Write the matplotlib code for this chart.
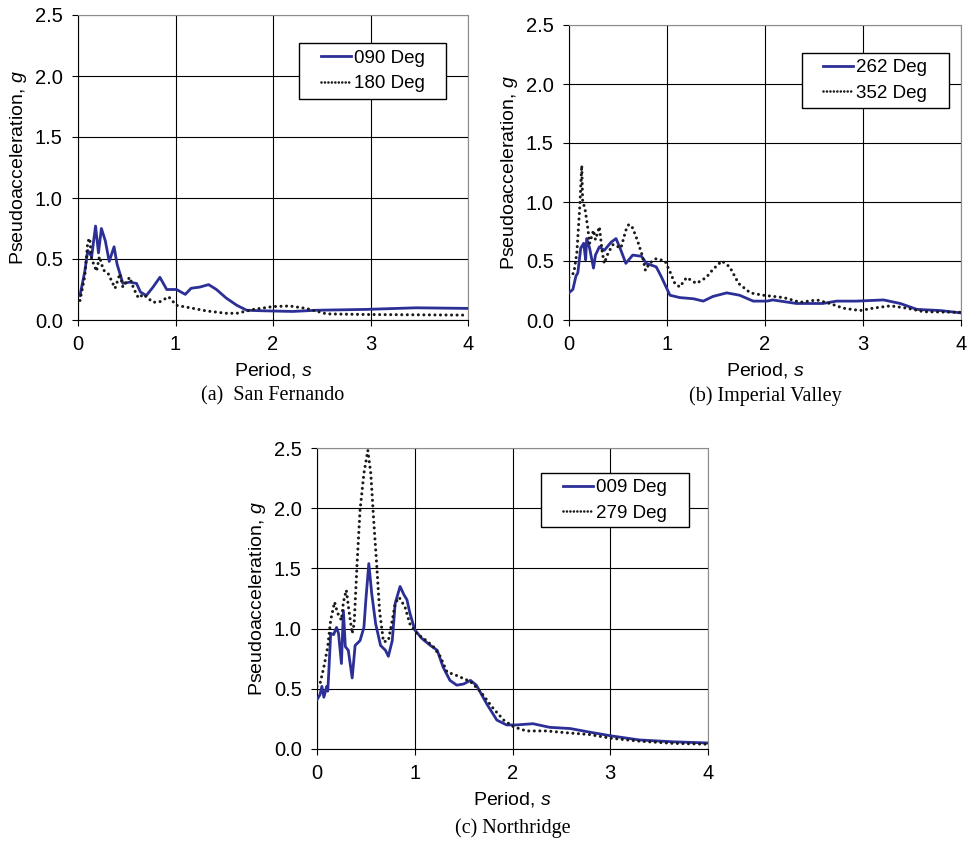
import matplotlib
matplotlib.use("Agg")
import matplotlib.pyplot as plt
from matplotlib.patches import Rectangle
from matplotlib.lines import Line2D
from matplotlib.ticker import FormatStrFormatter

plt.rcParams['font.family'] = ['Liberation Sans', 'DejaVu Sans']
plt.rcParams['mathtext.fontset'] = 'custom'
plt.rcParams['mathtext.rm'] = 'Liberation Sans'
plt.rcParams['mathtext.it'] = 'Liberation Sans:italic'

# (a) San Fernando
t_sf_090 = [0.02, 0.07, 0.10, 0.14, 0.18, 0.21, 0.24, 0.28, 0.32, 0.37, 0.40, 0.43, 0.46,
            0.53, 0.60, 0.64, 0.70, 0.77, 0.84, 0.91, 1.01, 1.10, 1.16, 1.25, 1.34, 1.42,
            1.52, 1.63, 1.73, 1.87, 2.20, 2.45, 2.96, 3.47, 4.00]
a_sf_090 = [0.20, 0.40, 0.57, 0.52, 0.77, 0.55, 0.75, 0.65, 0.48, 0.60, 0.46, 0.38, 0.30,
            0.31, 0.30, 0.23, 0.20, 0.27, 0.35, 0.25, 0.25, 0.21, 0.26, 0.27, 0.29, 0.25,
            0.18, 0.12, 0.08, 0.076, 0.07, 0.08, 0.087, 0.10, 0.095]
t_sf_180 = [0.02, 0.07, 0.10, 0.12, 0.14, 0.19, 0.22, 0.26, 0.31, 0.38, 0.43, 0.46, 0.53,
            0.57, 0.62, 0.67, 0.77, 0.84, 0.93, 1.01, 1.15, 1.32, 1.52, 1.63, 1.80, 2.00,
            2.17, 2.34, 2.55, 2.96, 4.00]
a_sf_180 = [0.16, 0.36, 0.64, 0.67, 0.50, 0.40, 0.52, 0.41, 0.38, 0.26, 0.38, 0.27, 0.35,
            0.26, 0.18, 0.21, 0.145, 0.15, 0.19, 0.12, 0.10, 0.074, 0.055, 0.055, 0.087, 0.11,
            0.115, 0.095, 0.05, 0.045, 0.04]

# (b) Imperial Valley
t_iv_262 = [0.00, 0.04, 0.07, 0.09, 0.12, 0.15, 0.17, 0.18, 0.21, 0.25, 0.27, 0.31, 0.36,
            0.39, 0.43, 0.48, 0.53, 0.58, 0.65, 0.74, 0.79, 0.89, 0.94, 1.03, 1.13, 1.27,
            1.37, 1.47, 1.61, 1.74, 1.88, 2.02, 2.08, 2.32, 2.59, 2.73, 2.93, 3.21, 3.38,
            3.55, 3.79, 4.00]
a_iv_262 = [0.23, 0.26, 0.37, 0.40, 0.61, 0.65, 0.51, 0.69, 0.61, 0.44, 0.55, 0.62, 0.59,
            0.62, 0.66, 0.69, 0.59, 0.48, 0.55, 0.54, 0.48, 0.45, 0.37, 0.21, 0.19, 0.18,
            0.16, 0.20, 0.23, 0.21, 0.16, 0.16, 0.17, 0.14, 0.14, 0.16, 0.16, 0.17, 0.14,
            0.09, 0.08, 0.06]
t_iv_352 = [0.00, 0.05, 0.08, 0.11, 0.13, 0.14, 0.16, 0.19, 0.21, 0.25, 0.27, 0.31, 0.34,
            0.36, 0.40, 0.45, 0.53, 0.58, 0.61, 0.65, 0.70, 0.75, 0.78, 0.82, 0.89, 0.98,
            1.03, 1.08, 1.13, 1.20, 1.30, 1.40, 1.47, 1.56, 1.64, 1.73, 1.85, 1.98, 2.19,
            2.36, 2.53, 2.66, 2.80, 2.97, 3.10, 3.28, 3.45, 3.62, 4.00]
a_iv_352 = [0.36, 0.40, 0.57, 0.96, 1.31, 0.99, 0.96, 0.79, 0.65, 0.76, 0.68, 0.79, 0.57,
            0.48, 0.57, 0.64, 0.61, 0.76, 0.81, 0.78, 0.67, 0.54, 0.42, 0.48, 0.52, 0.50,
            0.41, 0.31, 0.28, 0.36, 0.31, 0.36, 0.43, 0.50, 0.45, 0.31, 0.23, 0.21, 0.19,
            0.15, 0.17, 0.14, 0.10, 0.08, 0.10, 0.12, 0.10, 0.07, 0.065]

# (c) Northridge
t_nr_009 = [0.00, 0.03, 0.05, 0.07, 0.10, 0.11, 0.12, 0.14, 0.17, 0.20, 0.22, 0.25, 0.27,
            0.29, 0.32, 0.36, 0.39, 0.44, 0.48, 0.50, 0.53, 0.56, 0.60, 0.65, 0.70, 0.73,
            0.77, 0.80, 0.85, 0.89, 0.92, 0.95, 1.00, 1.07, 1.16, 1.23, 1.29, 1.36, 1.43,
            1.50, 1.57, 1.63, 1.74, 1.84, 1.94, 2.04, 2.21, 2.38, 2.59, 2.79, 3.00, 3.30,
            3.64, 4.00]
a_nr_009 = [0.41, 0.45, 0.52, 0.43, 0.52, 0.48, 0.63, 0.96, 0.95, 1.01, 0.96, 0.71, 1.15,
            0.85, 0.82, 0.59, 0.86, 0.90, 1.01, 1.24, 1.54, 1.29, 1.04, 0.86, 0.82, 0.77,
            0.90, 1.21, 1.35, 1.28, 1.24, 1.13, 0.99, 0.92, 0.86, 0.82, 0.68, 0.57, 0.53,
            0.54, 0.57, 0.53, 0.37, 0.24, 0.20, 0.20, 0.21, 0.18, 0.17, 0.14, 0.11, 0.075,
            0.06, 0.05]
t_nr_279 = [0.00, 0.03, 0.07, 0.11, 0.14, 0.18, 0.21, 0.25, 0.27, 0.30, 0.33, 0.36, 0.38,
            0.41, 0.44, 0.48, 0.52, 0.55, 0.58, 0.61, 0.64, 0.68, 0.73, 0.77, 0.80, 0.84,
            0.90, 0.95, 1.02, 1.12, 1.19, 1.26, 1.33, 1.43, 1.57, 1.67, 1.80, 1.91, 2.01,
            2.14, 2.35, 2.55, 2.79, 3.00, 3.30, 3.64, 4.00]
a_nr_279 = [0.52, 0.54, 0.68, 0.85, 1.07, 1.22, 1.13, 1.07, 1.22, 1.32, 1.13, 0.96, 1.04,
            1.54, 1.98, 2.29, 2.48, 2.29, 1.90, 1.54, 1.15, 0.89, 0.90, 1.07, 1.21, 1.26,
            1.18, 1.04, 0.96, 0.90, 0.85, 0.77, 0.64, 0.61, 0.56, 0.48, 0.34, 0.24, 0.185,
            0.15, 0.15, 0.135, 0.12, 0.09, 0.065, 0.047, 0.04]

xticks = [0, 1, 2, 3, 4]
yticks = [0.0, 0.5, 1.0, 1.5, 2.0, 2.5]

BLUE = '#2b2f96'
DOT = '#1a1a1a'
W, H = 977, 842


def px_axes(fig, x0, y0, x1, y1):
    # pixel box (top-left origin) -> figure fraction
    return fig.add_axes([x0 / W, (H - y1) / H, (x1 - x0) / W, (y1 - y0) / H])


def panel(ax, t1, a1, lab1, t2, a2, lab2, box, caption, cap_y):
    ax.plot(t1, a1, color=BLUE, lw=2.0, zorder=3)
    ax.plot(t2, a2, color=DOT, lw=2.2, ls=(0, (0.01, 1.8)),
            dash_capstyle='round', zorder=4)
    ax.set_xlim(0, 4)
    ax.set_ylim(0, 2.5)
    ax.set_xticks(xticks)
    ax.set_yticks(yticks)
    ax.yaxis.set_major_formatter(FormatStrFormatter('%.1f'))
    ax.grid(True, color='black', lw=0.8, zorder=1)
    ax.set_axisbelow(True)
    ax.tick_params(direction='out', length=4, width=0.8, pad=7, labelsize=14.5, colors='black')
    for s in ['top', 'right']:
        ax.spines[s].set_color('#8c8c8c')
    for s in ['left', 'bottom']:
        ax.spines[s].set_color('black')
    ax.set_xlabel('Period, $s$', fontsize=14, labelpad=5)
    ax.set_ylabel('Pseudoacceleration, $g$', fontsize=14, labelpad=4)

    bx0, by0, bx1, by1 = box
    ax.add_patch(Rectangle((bx0, by0), bx1 - bx0, by1 - by0, transform=ax.transAxes,
                           facecolor='white', edgecolor='black', lw=1.0, zorder=5))
    h1 = Line2D([], [], color=BLUE, lw=2.0)
    h2 = Line2D([], [], color=DOT, lw=1.9, ls=(0, (0.01, 1.3)), dash_capstyle='round')
    leg = ax.legend([h1, h2], [lab1, lab2], loc='center',
                    bbox_to_anchor=((bx0 + bx1) / 2, (by0 + by1) / 2),
                    frameon=False, fontsize=13.5, handlelength=1.6, handletextpad=0.15,
                    labelspacing=0.45, borderpad=0.2)
    leg.set_zorder(6)

    pos = ax.get_position()
    fig.text(pos.x0 + pos.width / 2, (H - cap_y) / H, caption, ha='center', va='center',
             family='Liberation Serif', fontsize=14.5)


fig = plt.figure(figsize=(9.77, 8.42), dpi=100)

ax_a = px_axes(fig, 78, 15, 468, 320)
panel(ax_a, t_sf_090, a_sf_090, '090 Deg', t_sf_180, a_sf_180, '180 Deg',
      (0.567, 0.725, 0.944, 0.908), '(a)  San Fernando', 396)

ax_b = px_axes(fig, 569, 25, 961, 320)
panel(ax_b, t_iv_262, a_iv_262, '262 Deg', t_iv_352, a_iv_352, '352 Deg',
      (0.594, 0.718, 0.969, 0.906), '(b) Imperial Valley', 396)

ax_c = px_axes(fig, 317, 448, 708, 749)
panel(ax_c, t_nr_009, a_nr_009, '009 Deg', t_nr_279, a_nr_279, '279 Deg',
      (0.573, 0.7365, 0.951, 0.916), '(c) Northridge', 828)

fig.savefig('out.png', dpi=100)
